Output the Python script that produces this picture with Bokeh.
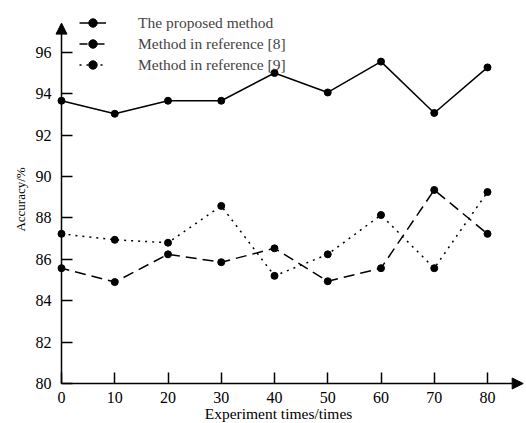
from bokeh.plotting import figure
from bokeh.models import Range1d, FixedTicker, Arrow, NormalHead, Legend, LegendItem, Label
from bokeh.embed import file_html
from bokeh.resources import INLINE

# ---- data ----
experiments = [0, 10, 20, 30, 40, 50, 60, 70, 80]
proposed = [93.66, 93.03, 93.66, 93.66, 95.0, 94.06, 95.55, 93.07, 95.27]
ref8 = [85.57, 84.9, 86.24, 85.86, 86.53, 84.94, 85.57, 89.35, 87.23]
ref9 = [87.23, 86.94, 86.8, 88.58, 85.2, 86.24, 88.14, 85.57, 89.25]
x_ticks = [0, 10, 20, 30, 40, 50, 60, 70, 80]
y_ticks = [80, 82, 84, 86, 88, 90, 92, 94, 96]
series_names = ["The proposed method", "Method in reference [8]", "Method in reference [9]"]
x_title = "Experiment times/times"
y_title = "Accuracy/%"

FONT = "Liberation Serif"
W, H = 526, 423
x0_px, xppu = 61.0, 5.325
y0_px, yppu = 383.0, 20.7

x_start = -x0_px / xppu
x_end = (W - x0_px) / xppu
y_start = 80 - (H - y0_px) / yppu
y_end = 80 + y0_px / yppu

p = figure(width=W, height=H, x_range=Range1d(x_start, x_end), y_range=Range1d(y_start, y_end),
           output_backend="svg", toolbar_location=None, min_border=0,
           min_border_left=0, min_border_right=0, min_border_top=0, min_border_bottom=0)
p.outline_line_color = None
p.grid.visible = False
p.background_fill_color = "white"
p.border_fill_color = "white"

p.xaxis.fixed_location = 80
p.yaxis.fixed_location = 0
p.xaxis.ticker = FixedTicker(ticks=x_ticks)
p.yaxis.ticker = FixedTicker(ticks=y_ticks)
p.axis.axis_line_color = None
p.axis.major_tick_in = 11
p.axis.major_tick_out = 0
p.axis.minor_tick_line_color = None
p.axis.major_tick_line_color = "black"
p.axis.major_tick_line_width = 1.5
p.axis.major_label_text_font = FONT
p.axis.major_label_text_font_size = "16px"
p.axis.major_label_text_color = "black"
p.xaxis.major_label_standoff = 8
p.yaxis.major_label_standoff = 10

# axis arrows
p.add_layout(Arrow(x_start=0, y_start=80, x_end=0, y_end=97.41, line_width=1.5, line_color="black",
                   end=NormalHead(size=11, fill_color="black", line_color="black")))
p.add_layout(Arrow(x_start=0, y_start=80, x_end=86.7, y_end=80, line_width=1.5, line_color="black",
                   end=NormalHead(size=11, fill_color="black", line_color="black")))

dashes = ["solid", "11 6", "2 5"]
items = []
for name, ys, dash in zip(series_names, [proposed, ref8, ref9], dashes):
    l = p.line(experiments, ys, line_color="black", line_width=1.5, line_dash=dash,
               line_dash_offset=3 if dash == "11 6" else 0)
    s = p.scatter(experiments, ys, size=7, fill_color="black", line_color="black")
    items.append(LegendItem(label=name, renderers=[l, s]))

legend = Legend(items=items, location=(79, 348), orientation="vertical",
                glyph_width=27, glyph_height=21, label_height=21, spacing=0, padding=0, margin=0,
                label_standoff=32, label_text_font=FONT, label_text_font_size="15.5px",
                border_line_color=None, background_fill_alpha=0)
p.add_layout(legend)

p.add_layout(Label(x=40.75, y=78.55, text=x_title, text_font=FONT, text_font_size="15.5px",
                   text_align="center", text_baseline="middle", text_color="black"))
p.add_layout(Label(x=-7.7, y=88.89, text=y_title, text_font=FONT, text_font_size="13px",
                   text_align="center", text_baseline="middle", angle=1.5708, text_color="black"))

open("out.html", "w").write(file_html(p, INLINE))
